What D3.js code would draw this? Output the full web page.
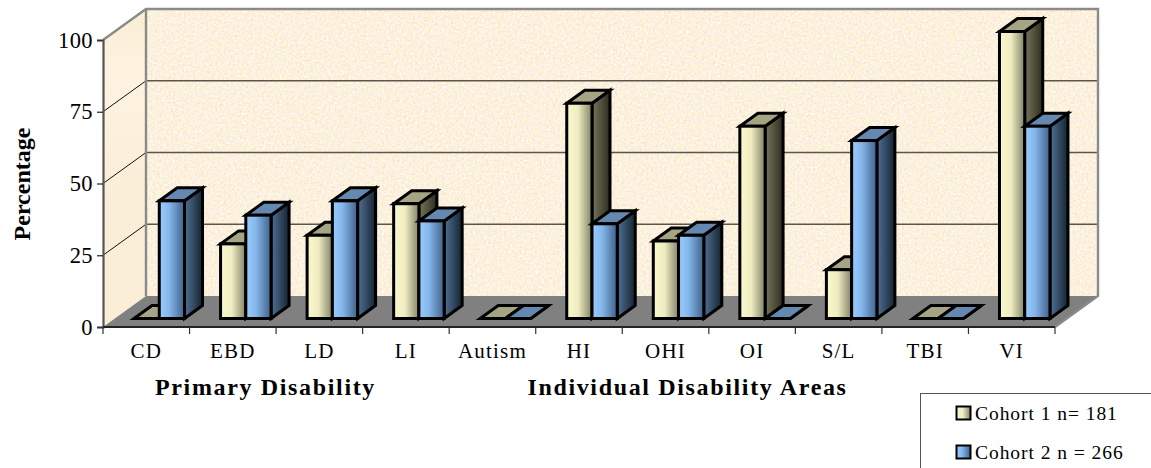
<!DOCTYPE html>
<html><head><meta charset="utf-8">
<script src="https://cdn.jsdelivr.net/npm/d3@7/dist/d3.min.js"></script>
<style>html,body{margin:0;padding:0;background:#fff;overflow:hidden}svg{display:block}text{font-family:"Liberation Serif",serif;fill:#000}</style>
</head><body><svg id="chart" width="1151" height="468"></svg>
<script>
const categories = ["CD","EBD","LD","LI","Autism","HI","OHI","OI","S/L","TBI","VI"];
const cohort1 = [0,26,29,40,0,75,27,67,17,0,100];
const cohort2 = [41,36,41,34,0,33,29,0,62,0,67];
const seriesNames = ["Cohort 1 n= 181","Cohort 2 n = 266"];
const yTicks = [0,25,50,75,100];

const svg = d3.select("#chart");
const defs = svg.append("defs");

// Plot frame: front plane plus the projection offset of the back wall
const frame = {left:103, right:1055, zero:327, top:40, depthX:43, depthY:-31};
const barOffset = {x:13, y:-8.5, dx:18, dy:-13};
const x = d3.scaleBand().domain(categories).range([frame.left, frame.right]);
const y = d3.scaleLinear().domain([0,100]).range([frame.zero, frame.top]);
const inner = d3.scaleBand().domain([0,1]).range([0,50.5]);
const pts = a => a.map(p => p.join(",")).join(" ");

function hGrad(id, stops){
  const g = defs.append("linearGradient").attr("id",id);
  stops.forEach(s => g.append("stop").attr("offset",s[0]).attr("stop-color",s[1]));
}
const palette = [
  {front:[[0,"#fbf9cc"],[0.45,"#eeecc0"],[1,"#82826a"]], side:[[0,"#77775a"],[1,"#2c2c20"]], top:"#a5a583"},
  {front:[[0,"#98ccff"],[0.4,"#84b6ea"],[1,"#3f6088"]], side:[[0,"#4f7196"],[1,"#16232f"]], top:"#6488b0"}
];
palette.forEach((p,i)=>{ hGrad("front"+i,p.front); hGrad("side"+i,p.side); });

// Parchment grain for the back wall
const paper = defs.append("filter").attr("id","paper").attr("x",0).attr("y",0).attr("width","100%").attr("height","100%")
  .attr("color-interpolation-filters","sRGB");
paper.append("feTurbulence").attr("type","fractalNoise").attr("baseFrequency","0.45").attr("numOctaves",3).attr("seed",7);
paper.append("feColorMatrix").attr("type","matrix")
  .attr("values","0 0 0 0 0.99  0 0.2 0 0 0.845  0 0 0.45 0 0.645  0 0 0 0 1");

const sideFill = defs.append("linearGradient").attr("id","sideWall").attr("x1",0).attr("y1",0).attr("x2",0).attr("y2",1);
[[0,"#f9edd3"],[0.2,"#fdf3e0"],[0.6,"#fbeed8"],[1,"#faeed6"]].forEach(s=>sideFill.append("stop").attr("offset",s[0]).attr("stop-color",s[1]));

const bx = frame.left+frame.depthX, by = d => y(d)+frame.depthY;

// Walls and floor
svg.append("rect").attr("x",bx).attr("y",by(100)).attr("width",frame.right-frame.left).attr("height",by(0)-by(100))
  .attr("fill","#fdf1da").attr("filter","url(#paper)");
svg.append("polygon").attr("points",pts([[frame.left,y(100)],[bx,by(100)],[bx,by(0)],[frame.left,y(0)]])).attr("fill","url(#sideWall)");
svg.append("polygon").attr("points",pts([[frame.left,y(0)],[bx,by(0)],[frame.right+frame.depthX,by(0)],[frame.right,y(0)]])).attr("fill","#808080");

// Gridlines across the side and back walls
const inside = yTicks.filter(t=>t>0 && t<100);
svg.selectAll(".gridBack").data(inside).join("line").attr("x1",bx).attr("x2",frame.right+frame.depthX)
  .attr("y1",by).attr("y2",by).attr("stroke","#5c5648").attr("stroke-width",1.4);
svg.selectAll(".gridSide").data(inside).join("line").attr("x1",frame.left).attr("x2",bx)
  .attr("y1",y).attr("y2",by).attr("stroke","#111").attr("stroke-width",1);

// Wall outlines
svg.append("path").attr("fill","none").attr("stroke","#8a8a8a").attr("stroke-width",2.4)
  .attr("d",d3.line()([[frame.left,y(100)],[bx,by(100)],[frame.right+frame.depthX,by(100)],[frame.right+frame.depthX,by(0)],[frame.right,y(0)]]));
svg.append("line").attr("x1",bx).attr("x2",bx).attr("y1",by(100)).attr("y2",by(0)).attr("stroke","#8a8a8a").attr("stroke-width",2.4);

// Bars: front, side and top faces of each box
[cohort1,cohort2].forEach((vals,s)=>{
  const g = svg.append("g").selectAll("g").data(vals).join("g");
  g.each(function(v,i){
    const x0 = x(categories[i]) + x.bandwidth()/2 - 25.25 + barOffset.x + inner(s);
    const x1 = x0 + inner.bandwidth();
    const yb = y(0)+barOffset.y, yt = y(v)+barOffset.y;
    const {dx,dy} = barOffset;
    const box = d3.select(this).attr("stroke","#000").attr("stroke-width",3).attr("stroke-linejoin","miter");
    box.append("polygon").attr("points",pts([[x1,yt],[x1+dx,yt+dy],[x1+dx,yb+dy],[x1,yb]])).attr("fill",`url(#side${s})`);
    box.append("polygon").attr("points",pts([[x0,yt],[x0+dx,yt+dy],[x1+dx,yt+dy],[x1,yt]])).attr("fill",palette[s].top);
    if(v>0) box.append("rect").attr("x",x0).attr("y",yt).attr("width",x1-x0).attr("height",yb-yt).attr("fill",`url(#front${s})`);
  });
});

// Value axis
const yAxis = svg.append("g").attr("transform",`translate(${frame.left},0)`)
  .call(d3.axisLeft(y).tickValues(yTicks).tickSize(6).tickPadding(4));
yAxis.select(".domain").attr("stroke","#555").attr("stroke-width",2.2);
yAxis.selectAll("line").attr("stroke","#333").attr("stroke-width",1.3);
yAxis.selectAll("text").style("font-size","22.5px").style("font-family","Liberation Serif").attr("letter-spacing",".4");

// Category axis with ticks on the band boundaries
const xAxis = svg.append("g");
xAxis.append("line").attr("x1",frame.left).attr("x2",frame.right).attr("y1",y(0)).attr("y2",y(0)).attr("stroke","#222").attr("stroke-width",2);
const edges = categories.map(c=>x(c)).concat(frame.right);
xAxis.selectAll(".edge").data(edges).join("line").attr("x1",d=>d).attr("x2",d=>d).attr("y1",y(0)).attr("y2",y(0)+7).attr("stroke","#333").attr("stroke-width",1.2);
xAxis.selectAll(".lab").data(categories).join("text").attr("x",d=>x(d)+x.bandwidth()/2).attr("y",358)
  .attr("text-anchor","middle").attr("font-size",21).attr("letter-spacing",1.2).text(d=>d);

// Axis titles
svg.append("text").attr("transform","translate(30,184) rotate(-90)").attr("text-anchor","middle")
  .attr("font-size",24).attr("font-weight","bold").text("Percentage");
svg.append("text").attr("x",265.5).attr("y",395).attr("text-anchor","middle").attr("font-size",24).attr("font-weight","bold").attr("letter-spacing",1.65).text("Primary Disability");
svg.append("text").attr("x",687.5).attr("y",395).attr("text-anchor","middle").attr("font-size",24).attr("font-weight","bold").attr("letter-spacing",1.65).text("Individual Disability Areas");

// Legend
svg.append("rect").attr("x",920.5).attr("y",393.5).attr("width",260).attr("height",100).attr("fill","#fff").attr("stroke","#555").attr("stroke-width",1);
const legend = svg.selectAll(".legendRow").data(seriesNames).join("g").attr("transform",(d,i)=>`translate(956.5,${406.5+i*39})`);
legend.append("rect").attr("width",14).attr("height",13).attr("fill",(d,i)=>`url(#front${i})`).attr("stroke","#000").attr("stroke-width",2);
legend.append("text").attr("x",18.5).attr("y",13.5).attr("font-size",19.5).attr("letter-spacing",.95).text(d=>d);
</script></body></html>
